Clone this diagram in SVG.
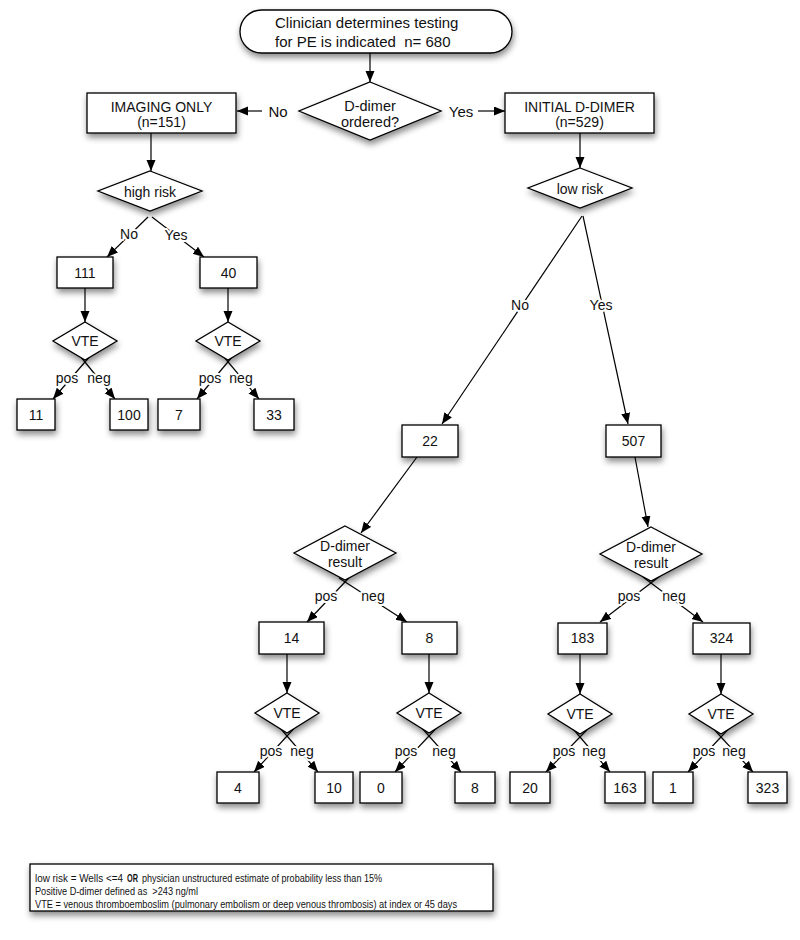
<svg xmlns="http://www.w3.org/2000/svg" width="800" height="940" viewBox="0 0 800 940">
<defs>
  <filter id="sh" x="-30%" y="-30%" width="160%" height="180%">
    <feDropShadow dx="1" dy="4" stdDeviation="3" flood-color="#000" flood-opacity="0.45"/>
  </filter>
  <marker id="ah" markerUnits="userSpaceOnUse" markerWidth="12" markerHeight="10" refX="11" refY="4.5" orient="auto">
    <path d="M0,0 L11,4.5 L0,9 z" fill="#000"/>
  </marker>
  <style>
    .n { fill:#fff; stroke:#000; stroke-width:1.3; filter:url(#sh); }
    .t { font-family:"Liberation Sans", Arial, sans-serif; font-size:14px; fill:#111; text-anchor:middle; }
    .c { fill:none; stroke:#000; stroke-width:1.2; marker-end:url(#ah); }
    .l { font-family:"Liberation Sans", Arial, sans-serif; font-size:14px; fill:#111; text-anchor:middle; stroke:#fff; stroke-width:4; paint-order:stroke; stroke-linejoin:round; }
    .lg { font-family:"Liberation Sans", Arial, sans-serif; font-size:10.5px; fill:#111; }
  </style>
</defs>
<rect width="800" height="940" fill="#fff"/>

<g id="connectors">
  <line class="c" x1="370" y1="53" x2="370" y2="82"/>
  <line class="c" x1="262" y1="111" x2="237" y2="111"/>
  <line class="c" x1="478" y1="111" x2="505" y2="111"/>
  <line class="c" x1="151" y1="133" x2="151" y2="171"/>
  <line class="c" x1="148" y1="217" x2="107" y2="257"/>
  <line class="c" x1="152" y1="217" x2="204" y2="257"/>
  <line class="c" x1="85" y1="288" x2="85" y2="322"/>
  <line class="c" x1="228" y1="288" x2="228" y2="322"/>
  <line class="c" x1="94.5" y1="351" x2="53" y2="399"/>
  <line class="c" x1="76" y1="351" x2="115" y2="399"/>
  <line class="c" x1="237" y1="351" x2="197" y2="399"/>
  <line class="c" x1="219" y1="351" x2="259" y2="399"/>
  <line class="c" x1="580" y1="133" x2="580" y2="168"/>
  <line class="c" x1="582" y1="216" x2="442" y2="424"/>
  <line class="c" x1="583" y1="216" x2="628" y2="424"/>
  <line class="c" x1="417" y1="457" x2="361" y2="533"/>
  <line class="c" x1="635" y1="457" x2="648" y2="527"/>
  <line class="c" x1="354.5" y1="572" x2="307" y2="622"/>
  <line class="c" x1="339" y1="578" x2="407" y2="622"/>
  <line class="c" x1="664" y1="573" x2="600" y2="622"/>
  <line class="c" x1="643" y1="577" x2="703" y2="622"/>
  <line class="c" x1="287" y1="654" x2="287" y2="693"/>
  <line class="c" x1="429" y1="654" x2="429" y2="693"/>
  <line class="c" x1="580" y1="654" x2="580" y2="694"/>
  <line class="c" x1="721" y1="654" x2="721" y2="694"/>
  <line class="c" x1="296.2" y1="726" x2="254" y2="772"/>
  <line class="c" x1="278.4" y1="726" x2="318" y2="772"/>
  <line class="c" x1="438.4" y1="726" x2="395" y2="772"/>
  <line class="c" x1="420.1" y1="726" x2="461" y2="772"/>
  <line class="c" x1="589.7" y1="727" x2="546" y2="772"/>
  <line class="c" x1="571.4" y1="727" x2="610" y2="772"/>
  <line class="c" x1="730.4" y1="727" x2="688" y2="772"/>
  <line class="c" x1="711.9" y1="727" x2="753" y2="772"/>
</g>

<g id="start">
  <rect class="n" x="240" y="10" width="272" height="43" rx="21.5"/>
  <text class="t" style="font-size:15px;text-anchor:start" x="275" y="28">Clinician determines testing</text>
  <text class="t" style="font-size:15px;text-anchor:start" x="275" y="47" xml:space="preserve">for PE is indicated  n= 680</text>
</g>
<g id="ddimer-ordered">
  <polygon class="n" points="370,82 441,111 370,140 299,111"/>
  <text class="t" style="font-size:14.5px" x="370" y="111">D-dimer</text>
  <text class="t" style="font-size:14.5px" x="370" y="127">ordered?</text>
</g>
<g id="imaging-only">
  <rect class="n" x="87" y="93" width="149" height="40"/>
  <text class="t" x="161.5" y="112">IMAGING ONLY</text>
  <text class="t" x="161.5" y="127">(n=151)</text>
</g>
<g id="initial-ddimer">
  <rect class="n" x="505" y="93" width="149" height="40"/>
  <text class="t" x="579.5" y="112">INITIAL D-DIMER</text>
  <text class="t" x="579.5" y="127">(n=529)</text>
</g>
<g id="high-risk">
  <polygon class="n" points="150,171 202,191 150,211 98,191"/>
  <text class="t" x="150" y="197">high risk</text>
</g>
<g id="low-risk">
  <polygon class="n" points="580,168 632,188 580,208 528,188"/>
  <text class="t" x="580" y="194">low risk</text>
</g>
<g id="n111"><rect class="n" x="57" y="257" width="56" height="31"/><text class="t" x="85" y="278">111</text></g>
<g id="n40"><rect class="n" x="200" y="257" width="57" height="31"/><text class="t" x="228.5" y="278">40</text></g>
<g id="vte1"><polygon class="n" points="85,322 117,341 85,360 53,341"/><text class="t" x="85" y="346">VTE</text></g>
<g id="vte2"><polygon class="n" points="228,322 260,341 228,360 196,341"/><text class="t" x="228" y="346">VTE</text></g>
<g id="n11"><rect class="n" x="17" y="399" width="38" height="31"/><text class="t" x="36" y="420">11</text></g>
<g id="n100"><rect class="n" x="110" y="399" width="38" height="31"/><text class="t" x="129" y="420">100</text></g>
<g id="n7"><rect class="n" x="158" y="399" width="42" height="31"/><text class="t" x="179" y="420">7</text></g>
<g id="n33"><rect class="n" x="254" y="399" width="40" height="31"/><text class="t" x="274" y="420">33</text></g>
<g id="n22"><rect class="n" x="402" y="425" width="56" height="32"/><text class="t" x="430" y="446">22</text></g>
<g id="n507"><rect class="n" x="606" y="425" width="55" height="32"/><text class="t" x="633.5" y="446">507</text></g>
<g id="dres1">
  <polygon class="n" points="345,526 396,553 345,580 294,553"/>
  <text class="t" x="345" y="551">D-dimer</text>
  <text class="t" x="345" y="567">result</text>
</g>
<g id="dres2">
  <polygon class="n" points="651,527 702,554 651,581 600,554"/>
  <text class="t" x="651" y="552">D-dimer</text>
  <text class="t" x="651" y="568">result</text>
</g>
<g id="n14"><rect class="n" x="259" y="622" width="65" height="32"/><text class="t" x="291.5" y="643">14</text></g>
<g id="n8a"><rect class="n" x="402" y="622" width="55" height="32"/><text class="t" x="429.5" y="643">8</text></g>
<g id="n183"><rect class="n" x="558" y="623" width="49" height="31"/><text class="t" x="582.5" y="643">183</text></g>
<g id="n324"><rect class="n" x="693" y="623" width="57" height="31"/><text class="t" x="721.5" y="643">324</text></g>
<g id="vte3"><polygon class="n" points="287,693 319,713 287,733 255,713"/><text class="t" x="287" y="718">VTE</text></g>
<g id="vte4"><polygon class="n" points="429,693 461,713 429,733 397,713"/><text class="t" x="429" y="718">VTE</text></g>
<g id="vte5"><polygon class="n" points="580,694 612,714 580,734 548,714"/><text class="t" x="580" y="719">VTE</text></g>
<g id="vte6"><polygon class="n" points="721,694 753,714 721,734 689,714"/><text class="t" x="721" y="719">VTE</text></g>
<g id="n4"><rect class="n" x="217" y="772" width="42" height="31"/><text class="t" x="238" y="793">4</text></g>
<g id="n10"><rect class="n" x="315" y="772" width="38" height="31"/><text class="t" x="334" y="793">10</text></g>
<g id="n0"><rect class="n" x="360" y="772" width="42" height="31"/><text class="t" x="381" y="793">0</text></g>
<g id="n8b"><rect class="n" x="455" y="772" width="40" height="31"/><text class="t" x="475" y="793">8</text></g>
<g id="n20"><rect class="n" x="510" y="772" width="40" height="31"/><text class="t" x="530" y="793">20</text></g>
<g id="n163"><rect class="n" x="605" y="772" width="40" height="31"/><text class="t" x="625" y="793">163</text></g>
<g id="n1"><rect class="n" x="653" y="772" width="40" height="31"/><text class="t" x="673" y="793">1</text></g>
<g id="n323"><rect class="n" x="748" y="772" width="39" height="31"/><text class="t" x="767.5" y="793">323</text></g>

<g id="edge-labels">
  <text class="t" style="font-size:15px" x="278" y="117">No</text>
  <text class="t" style="font-size:15px" x="461" y="117">Yes</text>
  <text class="l" x="129" y="239">No</text>
  <text class="l" x="176" y="240">Yes</text>
  <text class="l" x="67" y="383">pos</text>
  <text class="l" x="99" y="383">neg</text>
  <text class="l" x="210" y="383">pos</text>
  <text class="l" x="241" y="383">neg</text>
  <text class="l" x="520" y="310">No</text>
  <text class="l" x="601" y="310">Yes</text>
  <text class="l" x="326" y="601">pos</text>
  <text class="l" x="373" y="601">neg</text>
  <text class="l" x="629" y="601">pos</text>
  <text class="l" x="674" y="601">neg</text>
  <text class="l" x="271" y="756">pos</text>
  <text class="l" x="302" y="756">neg</text>
  <text class="l" x="406" y="756">pos</text>
  <text class="l" x="444" y="756">neg</text>
  <text class="l" x="564" y="756">pos</text>
  <text class="l" x="594" y="756">neg</text>
  <text class="l" x="704" y="756">pos</text>
  <text class="l" x="734" y="756">neg</text>
</g>

<g id="legend">
  <rect class="n" x="30" y="864" width="463" height="47"/>
  <text class="lg" x="35" y="882" textLength="88" lengthAdjust="spacingAndGlyphs">low risk = Wells &lt;=4</text>
  <text class="lg" x="127" y="882" font-weight="bold" textLength="11" lengthAdjust="spacingAndGlyphs">OR</text>
  <text class="lg" x="142" y="882" textLength="240" lengthAdjust="spacingAndGlyphs">physician unstructured estimate of probability less than 15%</text>
  <text class="lg" x="35" y="895" textLength="163" lengthAdjust="spacingAndGlyphs" xml:space="preserve">Positive D-dimer defined as  &gt;243 ng/ml</text>
  <text class="lg" x="35" y="908" textLength="422" lengthAdjust="spacingAndGlyphs">VTE = venous thromboemboslim (pulmonary embolism or deep venous thrombosis) at index or 45 days</text>
</g>
</svg>
